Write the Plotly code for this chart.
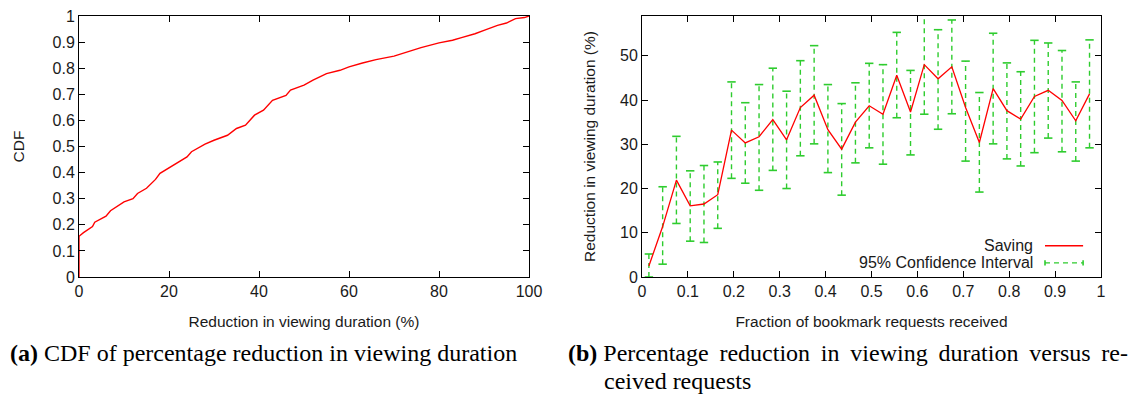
import plotly.graph_objects as go

# ---- Left panel: CDF of percentage reduction ----
cdf_x = [0, 0, 1, 3, 3.5, 5, 6, 7, 10, 12, 13, 15, 17, 18, 20, 22, 24, 25, 27, 28, 30,
         33, 35, 37, 39, 41, 43, 45, 46, 47, 50, 52, 55, 58, 60, 63, 66, 70, 73, 76,
         80, 83, 85, 88, 90, 93, 95, 97, 99, 100]
cdf_y = [0, 0.156, 0.17, 0.193, 0.21, 0.225, 0.233, 0.254, 0.288, 0.30, 0.32, 0.34, 0.374,
         0.397, 0.418, 0.441, 0.46, 0.48, 0.499, 0.509, 0.524, 0.543, 0.569, 0.582, 0.62,
         0.639, 0.677, 0.69, 0.696, 0.716, 0.735, 0.754, 0.779, 0.792, 0.805, 0.82, 0.833,
         0.846, 0.862, 0.879, 0.897, 0.907, 0.917, 0.932, 0.945, 0.964, 0.973, 0.99, 0.994, 1.0]

# ---- Right panel: reduction vs fraction of requests received ----
frac = [0.015, 0.045, 0.075, 0.105, 0.135, 0.165, 0.195, 0.225, 0.255, 0.285, 0.315,
        0.345, 0.375, 0.405, 0.435, 0.465, 0.495, 0.525, 0.555, 0.585, 0.615, 0.645,
        0.675, 0.705, 0.735, 0.765, 0.795, 0.825, 0.855, 0.885, 0.915, 0.945, 0.975]
saving = [2.5, 11.4, 21.9, 16.1, 16.5, 18.6, 33.2, 30.3, 31.7, 35.6, 31.0, 38.3, 41.1,
          33.3, 28.9, 35.0, 38.7, 36.8, 45.6, 37.3, 48.0, 44.8, 47.5, 38.3, 30.4, 42.6,
          37.6, 35.7, 40.8, 42.2, 39.9, 35.3, 41.4]
ci_upper = [5.2, 20.4, 31.8, 24.0, 25.2, 26.0, 44.1, 39.4, 43.5, 47.2, 42.0, 48.9, 52.3,
            43.5, 39.2, 43.9, 48.3, 48.0, 55.3, 46.7, 59.5, 55.9, 58.1, 48.8, 41.7, 55.1,
            48.4, 46.4, 53.5, 52.9, 51.2, 44.1, 53.6]
ci_lower = [0.0, 2.9, 12.1, 8.1, 7.8, 11.0, 22.3, 21.2, 19.6, 24.1, 20.0, 27.4, 30.1,
            23.6, 18.5, 25.8, 29.2, 25.5, 36.0, 27.6, 36.8, 33.4, 36.9, 26.2, 19.2, 30.1,
            26.7, 25.1, 28.1, 31.4, 28.3, 26.2, 29.2]

left_xticks = [0, 20, 40, 60, 80, 100]
left_yticks = [0, 0.1, 0.2, 0.3, 0.4, 0.5, 0.6, 0.7, 0.8, 0.9, 1]
right_xticks = [0, 0.1, 0.2, 0.3, 0.4, 0.5, 0.6, 0.7, 0.8, 0.9, 1]
right_yticks = [0, 10, 20, 30, 40, 50]

RED = "#ff0000"
GREEN = "#2ecc2e"
TICKFONT = dict(family="Liberation Sans, Arial, sans-serif", size=16, color="#1a1a1a")
TITLEFONT = dict(family="Liberation Sans, Arial, sans-serif", size=15.5, color="#1a1a1a")

fig = go.Figure()

fig.add_trace(go.Scatter(x=cdf_x, y=cdf_y, mode="lines", xaxis="x", yaxis="y",
                         line=dict(color=RED, width=1.4), showlegend=False))

# error bars as dashed vertical segments
ex, ey = [], []
for xv, lo, hi in zip(frac, ci_lower, ci_upper):
    ex += [xv, xv, None]
    ey += [lo, hi, None]
fig.add_trace(go.Scatter(x=ex, y=ey, mode="lines", xaxis="x2", yaxis="y2",
                         line=dict(color=GREEN, width=1.4, dash="5px,4px"), showlegend=False))
fig.add_trace(go.Scatter(x=frac + frac, y=ci_upper + ci_lower, mode="markers",
                         xaxis="x2", yaxis="y2", showlegend=False,
                         marker=dict(symbol="line-ew", size=6,
                                     line=dict(color=GREEN, width=1.6))))
fig.add_trace(go.Scatter(x=frac, y=saving, mode="lines", xaxis="x2", yaxis="y2",
                         line=dict(color=RED, width=1.3), showlegend=False))

ydom = [1 - 277 / 401, 1 - 16 / 401]
axis_common = dict(showline=True, linecolor="black", linewidth=1, mirror="allticks",
                   ticks="inside", ticklen=6, tickcolor="black", showgrid=False,
                   zeroline=False, tickfont=TICKFONT, automargin=False)

fig.update_layout(
    width=1145, height=401,
    margin=dict(l=0, r=0, t=0, b=0),
    paper_bgcolor="white", plot_bgcolor="white",
    showlegend=False,
    xaxis=dict(domain=[79 / 1145, 529 / 1145], range=[0, 100], tickvals=left_xticks,
               title=dict(text="Reduction in viewing duration (%)", font=TITLEFONT, standoff=16),
               anchor="y", **axis_common),
    yaxis=dict(domain=ydom, range=[0, 1], tickvals=left_yticks,
               ticktext=[("%g" % v) for v in left_yticks],
               title=dict(text="CDF", font=TITLEFONT, standoff=24),
               anchor="x", **axis_common),
    xaxis2=dict(domain=[642 / 1145, 1101 / 1145], range=[0, 1], tickvals=right_xticks,
                ticktext=[("%g" % v) for v in right_xticks],
                title=dict(text="Fraction of bookmark requests received", font=TITLEFONT, standoff=16),
                anchor="y2", **axis_common),
    yaxis2=dict(domain=ydom, range=[0, 59], tickvals=right_yticks,
                title=dict(text="Reduction in viewing duration (%)", font=TITLEFONT, standoff=20),
                anchor="x2", **axis_common),
)

# custom gnuplot-style key (text left, sample right)
key_font = dict(family="Liberation Sans, Arial, sans-serif", size=16, color="#1a1a1a")
fig.add_annotation(x=0.856, y=0.12, xref="x2 domain", yref="y2 domain", text="Saving",
                   showarrow=False, xanchor="right", yanchor="middle", font=key_font)
fig.add_annotation(x=0.856, y=0.054, xref="x2 domain", yref="y2 domain",
                   text="95% Confidence Interval",
                   showarrow=False, xanchor="right", yanchor="middle", font=key_font)
fig.add_shape(type="line", xref="x2 domain", yref="y2 domain", x0=0.878, x1=0.961,
              y0=0.12, y1=0.12, line=dict(color=RED, width=1.4))
fig.add_shape(type="line", xref="x2 domain", yref="y2 domain", x0=0.878, x1=0.961,
              y0=0.054, y1=0.054, line=dict(color=GREEN, width=1.4, dash="5px,4px"))
for xe in (0.878, 0.961):
    fig.add_shape(type="line", xref="x2 domain", yref="y2 domain", x0=xe, x1=xe,
                  y0=0.054 - 0.01, y1=0.054 + 0.01, line=dict(color=GREEN, width=1.6))

# captions
cap_font = dict(family="Liberation Serif, Times New Roman, serif", size=24, color="black")
fig.add_annotation(x=8 / 1145, y=1 - 353 / 401, xref="paper", yref="paper",
                   text="<b>(a)</b> CDF of percentage reduction in viewing duration",
                   showarrow=False, xanchor="left", yanchor="middle", font=cap_font)
sp = " \u2009"
cap_b = sp.join(["Percentage", "reduction", "in", "viewing", "duration", "versus", "re-"])
fig.add_annotation(x=566 / 1145, y=1 - 353 / 401, xref="paper", yref="paper",
                   text="<b>(b)</b> " + cap_b,
                   showarrow=False, xanchor="left", yanchor="middle", font=cap_font)
fig.add_annotation(x=602 / 1145, y=1 - 381 / 401, xref="paper", yref="paper",
                   text="ceived requests",
                   showarrow=False, xanchor="left", yanchor="middle", font=cap_font)

fig.write_html("out.html")
